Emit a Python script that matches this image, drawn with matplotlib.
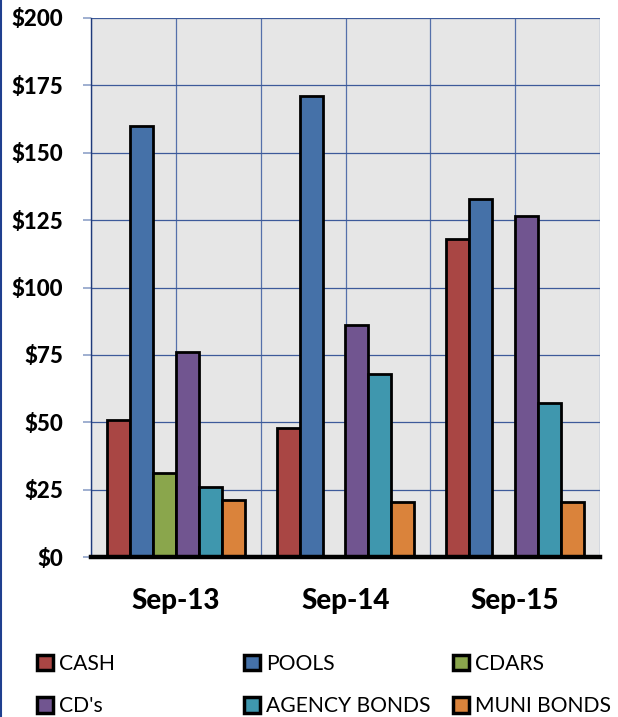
import matplotlib
matplotlib.use("Agg")
import matplotlib.pyplot as plt
from matplotlib.lines import Line2D
import numpy as np

categories = ["Sep-13", "Sep-14", "Sep-15"]
series = ["CASH", "POOLS", "CDARS", "CD's", "AGENCY BONDS", "MUNI BONDS"]
cash = [51, 48, 118]
pools = [160, 171, 133]
cdars = [31, 0, 0]
cds = [76, 86, 126.5]
agency = [26, 68, 57]
muni = [21, 20.5, 20.3]
values = [cash, pools, cdars, cds, agency, muni]
colors = ["#A94644", "#4571A8", "#8AA64C", "#715590", "#3F97AE", "#DA833B"]
yticks = [0, 25, 50, 75, 100, 125, 150, 175, 200]
ytick_labels = ["$0", "$25", "$50", "$75", "$100", "$125", "$150", "$175", "$200"]

FONT = "Lato"
plt.rcParams["font.family"] = [FONT, "DejaVu Sans"]

fig = plt.figure(figsize=(6.18, 7.17), dpi=100)
ax = fig.add_axes([91/618, 1-557/717, 509/618, 539/717])
ax.set_facecolor("#E6E6E6")

x = np.arange(len(categories))
w = 0.135
bars = []
for i, (vals, c, name) in enumerate(zip(values, colors, series)):
    b = ax.bar(x + (i - 2.5) * w, vals, w, color=c, edgecolor="black",
               linewidth=2.0, label=name, zorder=3)
    bars.append(b)

ax.set_xlim(-0.5, 2.5)
ax.set_ylim(0, 200)
ax.set_yticks(yticks)
ax.set_yticklabels(ytick_labels, fontsize=16, fontweight="black")
ax.set_xticks(x)
ax.set_xticklabels(categories, fontsize=20, fontweight="black")
ax.xaxis.remove_overlapping_locs = False
ax.set_xticks(np.arange(-0.5, 2.6, 0.5), minor=True)
ax.tick_params(axis="y", length=6, color="#8FA2C8", width=1.2, pad=14)
ax.tick_params(axis="x", which="both", length=0, pad=22)
ax.grid(axis="y", color="#3D5A9A", linewidth=0.9, zorder=1)
ax.grid(axis="x", which="minor", color="#5570AA", linewidth=0.9, zorder=1)
ax.set_axisbelow(True)

for s in ["top", "right"]:
    ax.spines[s].set_visible(False)
ax.spines["left"].set_color("#1F3A7A")
ax.spines["left"].set_linewidth(1.0)
ax.spines["bottom"].set_color("black")
ax.spines["bottom"].set_linewidth(3.2)
ax.spines["bottom"].set_zorder(5)

# left border line of figure
fig.add_artist(Line2D([1.5/618, 1.5/618], [0, 1], color="#1F3F8F", linewidth=1.5,
                      transform=fig.transFigure))

col_x = [37/618, 244/618, 453/618]
pairs = [(0, 3), (1, 4), (2, 5)]
for cx, (a, b) in zip(col_x, pairs):
    leg = fig.legend([bars[a], bars[b]], [series[a], series[b]], loc="upper left",
                     bbox_to_anchor=(cx, 1-654/717), frameon=False, fontsize=15.2,
                     handlelength=0.75, handleheight=0.75, handletextpad=0.3,
                     labelspacing=1.05, borderpad=0, borderaxespad=0)
    for h in leg.legend_handles:
        h.set_linewidth(2.5)

fig.savefig("out.png", dpi=100)
